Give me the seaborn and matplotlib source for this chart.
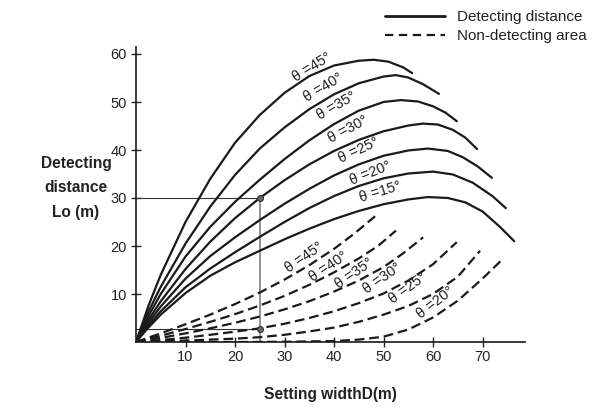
import matplotlib
matplotlib.use("Agg")
import matplotlib.pyplot as plt
import seaborn as sns
from matplotlib.lines import Line2D

# ---------------- data ----------------
angles_solid = [45, 40, 35, 30, 25, 20, 15]
angles_dashed = [45, 40, 35, 30, 25, 20]

# Detecting distance curves (solid)
solid_x_45 = [0, 2.5, 5, 10, 15, 20, 25, 30, 35, 40, 45, 48, 51, 54, 55.8]
solid_y_45 = [0, 7.5, 14, 25, 34.0, 41.5, 47.3, 51.9, 55.4, 57.6, 58.6, 58.8, 58.4, 57.2, 56.0]
solid_x_40 = [0, 2.5, 5, 10, 15, 20, 25, 30, 35, 40, 45, 50, 52.5, 55, 58, 61.2]
solid_y_40 = [0, 6.3, 11.5, 20.5, 28.2, 34.8, 40.3, 44.7, 48.5, 51.6, 53.9, 55.3, 55.6, 55.1, 53.7, 51.7]
solid_x_35 = [0, 2.5, 5, 10, 15, 20, 25, 30, 35, 40, 45, 50, 53.5, 57, 60, 62.5, 64.8]
solid_y_35 = [0, 5.4, 10, 17.8, 24, 29.2, 33.8, 38.1, 42, 45.4, 48.2, 50.0, 50.4, 50.1, 49.1, 47.8, 46.0]
solid_x_30 = [0, 2.5, 5, 10, 15, 20, 25, 30, 35, 40, 45, 50, 55, 58, 61, 64, 66.5, 68.9]
solid_y_30 = [0, 4.6, 8.5, 15.2, 20.9, 25.8, 30.0, 33.7, 37.0, 39.8, 42.1, 43.9, 45.1, 45.5, 45.3, 44.2, 42.6, 40.2]
solid_x_25 = [0, 2.5, 5, 10, 15, 20, 25, 30, 35, 40, 45, 50, 55, 59, 63, 66, 69, 71.9]
solid_y_25 = [0, 4.0, 7.4, 13.2, 17.9, 21.8, 25.4, 28.8, 31.9, 34.7, 37.0, 38.8, 39.9, 40.3, 39.8, 38.5, 36.6, 34.2]
solid_x_20 = [0, 2.5, 5, 10, 15, 20, 25, 30, 35, 40, 45, 50, 55, 60, 64, 68, 72, 74.7]
solid_y_20 = [0, 3.5, 6.4, 11.4, 15.3, 18.7, 21.9, 25.0, 27.9, 30.4, 32.5, 34.1, 35.1, 35.5, 34.9, 33.2, 30.4, 27.9]
solid_x_15 = [0, 2.5, 5, 10, 15, 20, 25, 30, 35, 40, 45, 50, 55, 59, 63, 66.5, 70, 73.5, 76.4]
solid_y_15 = [0, 3.0, 5.7, 10.2, 13.8, 16.6, 19.0, 21.4, 23.6, 25.6, 27.3, 28.7, 29.7, 30.2, 30.0, 29.1, 27.2, 24.0, 21.0]

# Non-detecting area curves (dashed)
dash_x_45 = [0, 5, 10, 15, 20, 25, 30, 35, 40, 44, 48.3]
dash_y_45 = [0, 1.8, 3.7, 5.7, 7.9, 10.3, 13.0, 16.0, 19.4, 22.5, 26.2]
dash_x_40 = [0, 5, 10, 15, 20, 25, 30, 35, 40, 45, 49, 52.5]
dash_y_40 = [0, 1.3, 2.7, 4.2, 5.8, 7.6, 9.6, 11.9, 14.5, 17.4, 20.1, 23.2]
dash_x_35 = [0, 5, 10, 15, 20, 25, 30, 35, 40, 45, 50, 54, 58]
dash_y_35 = [0, 0.85, 1.8, 2.85, 4.0, 5.3, 6.8, 8.5, 10.5, 12.8, 15.6, 18.5, 21.8]
dash_x_30 = [0, 5, 10, 15, 20, 25, 30, 35, 40, 45, 50, 55, 60, 64.8]
dash_y_30 = [0, 0.4, 0.9, 1.5, 2.15, 2.85, 3.8, 5.0, 6.4, 8.1, 10.1, 12.8, 16.2, 20.8]
dash_x_25 = [0, 10, 20, 25, 30, 35, 40, 45, 50, 55, 60, 65, 69.5]
dash_y_25 = [0, 0.3, 0.7, 1.0, 1.5, 2.2, 3.0, 4.2, 5.7, 7.5, 10.0, 13.6, 19.0]
dash_x_20 = [0, 20, 30, 40, 45, 50, 55, 60, 65, 70, 73.9]
dash_y_20 = [0, 0.0, 0.05, 0.2, 0.5, 1.1, 2.6, 5.1, 8.6, 13.2, 17.1]

x_ticks = [10, 20, 30, 40, 50, 60, 70]
y_ticks = [10, 20, 30, 40, 50, 60]

ref_x = 25
ref_y = [30, 2.8]

legend_labels = ["Detecting distance", "Non-detecting area"]

solid_xs = [solid_x_45, solid_x_40, solid_x_35, solid_x_30, solid_x_25, solid_x_20, solid_x_15]
solid_ys = [solid_y_45, solid_y_40, solid_y_35, solid_y_30, solid_y_25, solid_y_20, solid_y_15]
dash_xs = [dash_x_45, dash_x_40, dash_x_35, dash_x_30, dash_x_25, dash_x_20]
dash_ys = [dash_y_45, dash_y_40, dash_y_35, dash_y_30, dash_y_25, dash_y_20]

# label placement (data coords) and rotation
solid_lab_pos = [(35.5, 57.3), (37.8, 53.1), (40.6, 49.2), (42.9, 44.4), (45.1, 40.0), (47.3, 35.2), (49.3, 31.3)]
solid_lab_rot = [32, 31, 30, 28, 25, 22, 17]
dash_lab_pos = [(34.1, 17.7), (39.0, 15.6), (44.2, 14.2), (49.7, 13.3), (55.0, 11.3), (60.6, 8.3)]
dash_lab_rot = [35, 34, 35, 35, 36, 38]

# ---------------- style ----------------
sns.set_style("ticks")
plt.rcParams["font.family"] = ["Liberation Sans", "DejaVu Sans"]
plt.rcParams["lines.scale_dashes"] = False

INK = "#1a1a1a"
TXT = "#222222"
DASH = (0, (7, 3.5))

fig = plt.figure(figsize=(6.06, 4.08), dpi=100)
ax = fig.add_axes([136 / 606, 66 / 408, 388.6 / 606, 295.2 / 408])

# reference guide lines
sns.lineplot(x=[0, ref_x], y=[ref_y[0], ref_y[0]], ax=ax, color="#333333", linewidth=0.8, estimator=None)
sns.lineplot(x=[0, ref_x], y=[ref_y[1], ref_y[1]], ax=ax, color="#333333", linewidth=0.8, estimator=None)
sns.lineplot(x=[ref_x, ref_x], y=[0, ref_y[0]], ax=ax, color="#8a8a8a", linewidth=1.3, estimator=None, sort=False)

for xs, ys in zip(solid_xs, solid_ys):
    sns.lineplot(x=xs, y=ys, ax=ax, color=INK, linewidth=1.6, sort=False, estimator=None)
for xs, ys in zip(dash_xs, dash_ys):
    sns.lineplot(x=xs, y=ys, ax=ax, color=INK, linewidth=1.6, sort=False, estimator=None, linestyle=DASH)

sns.scatterplot(x=[ref_x, ref_x], y=ref_y, ax=ax, color="#666666", edgecolor="#333333", s=18, linewidth=0.8, zorder=5)

for a, (lx, ly), r in zip(angles_solid, solid_lab_pos, solid_lab_rot):
    ax.text(lx, ly, f"θ ={a}°", rotation=r, ha="center", va="center", fontsize=10.5, color=TXT)
for a, (lx, ly), r in zip(angles_dashed, dash_lab_pos, dash_lab_rot):
    ax.text(lx, ly, f"θ ={a}°", rotation=r, ha="center", va="center", fontsize=10.5, color=TXT)

ax.set_xlim(0, 78.5)
ax.set_ylim(0, 61.5)
ax.set_xticks(x_ticks)
ax.set_yticks(y_ticks)
ax.set_xlabel("")
ax.set_ylabel("")
for s in ("top", "right"):
    ax.spines[s].set_visible(False)
for s in ("left", "bottom"):
    ax.spines[s].set_color(INK)
    ax.spines[s].set_linewidth(1.2)
ax.tick_params(direction="inout", length=7, width=1, labelsize=10.5, colors=TXT)
ax.tick_params(axis="x", pad=2)
ax.tick_params(axis="y", pad=3)

fig.text(76 / 606, 1 - 188 / 408, "Detecting\ndistance\nLo (m)", ha="center", va="center",
         fontsize=11.2, fontweight="bold", color=TXT, linespacing=1.8)
fig.text(330 / 606, 1 - 394 / 408, "Setting widthD(m)", ha="center", va="center",
         fontsize=11.2, fontweight="bold", color=TXT)

handles = [Line2D([], [], color=INK, linewidth=2.0),
           Line2D([], [], color=INK, linewidth=1.6, linestyle=(0, (6, 4)))]
ax.legend(handles, legend_labels, loc="upper left", bbox_to_anchor=(385 / 606, 1 - 10 / 408),
          bbox_transform=fig.transFigure, frameon=False, fontsize=11, handlelength=3.9,
          handletextpad=0.8, labelspacing=0.32, borderpad=0, borderaxespad=0, labelcolor=TXT)

fig.savefig("out.png", dpi=100)
